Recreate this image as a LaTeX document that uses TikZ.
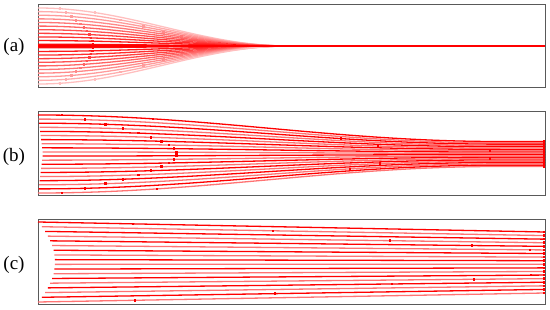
\documentclass[tikz,border=0pt]{standalone}
\usepackage{fontspec}
\setmainfont{Liberation Serif}
\usepackage{xcolor}
\usepackage{tikz}
\usetikzlibrary{calc}
\definecolor{slRed}{rgb}{1,0,0}
\definecolor{slPale}{rgb}{1,0.45,0.45}
\definecolor{slFrame}{rgb}{0.35,0.35,0.35}
\tikzset{
  sl-frame/.style={draw=slFrame, line width=1pt},
  sl-trace/.style={draw=slRed, line width=1.3pt},
  sl-dot/.style={fill=slRed},
  sl-tag/.style={font=\fontsize{19}{22}\selectfont, inner sep=0pt},
}
% helpers for the dots
\newcommand{\sldot}[2]{\fill[sl-dot] ({#1-1.3},{#2-1.3}) rectangle ({#1+1.3},{#2+1.3});}

\begin{document}
\begin{tikzpicture}[x=1pt, y=-1pt]
  \useasboundingbox (0,0) rectangle (550,310);

  % frames
  \draw[sl-frame] (38,5)   rectangle (545,88);
  \draw[sl-frame] (38,112) rectangle (545,196);
  \draw[sl-frame] (38,220) rectangle (545,305);

  % (a) fast focusing onto the axis
  \foreach \i in {0,...,21}{
    \pgfmathsetmacro{\dy}{-38+\i*76/21}
    \pgfmathsetmacro{\rr}{abs(\dy)/38}
    \pgfmathsetmacro{\gb}{0.75*\rr}
    \definecolor{slTint}{rgb}{1,\gb,\gb}
    \draw[sl-trace, draw=slTint] plot[domain=38:290, samples=50, smooth]
      (\x, {46+(\dy)*0.5*(1+cos((\x-38)/252*180))});
    \pgfmathsetmacro{\xa}{93-33*\rr*\rr}
    \pgfmathsetmacro{\ya}{46+(\dy)*0.5*(1+cos((\xa-38)/252*180))}
    \pgfmathsetmacro{\xb}{235-140*\rr*\rr}
    \pgfmathsetmacro{\yb}{46+(\dy)*0.5*(1+cos((\xb-38)/252*180))}
    \begin{scope}[sl-dot/.style={fill=slTint}]
      \sldot{\xa}{\ya}
      \sldot{\xb}{\yb}
    \end{scope}
  }
  \draw[sl-trace] (38,46) -- (545,46);
  \foreach \xx in {277,310,313,317,322,328,340,347,375,377,402,407,418,427,430,445,460,478,497,508,513,517,523,528,544}{
    \sldot{\xx}{46}
  }

  % (b) slow focusing into a band
  \foreach \i in {0,...,19}{
    \pgfmathsetmacro{\dy}{-39+\i*78/19}
    \pgfmathsetmacro{\rr}{abs(\dy)/39}
    \ifodd\i \def\tint{slPale}\else \def\tint{slRed}\fi
    \pgfmathsetmacro{\xs}{38+5*(1-\rr)}
    \draw[sl-trace, draw=\tint] plot[domain=\xs:545, samples=60, smooth]
      (\x, {154+(\dy)*(0.32+0.34*(1+cos(min(\x-38,462)/462*180)))});
    \pgfmathsetmacro{\xa}{177-115*\rr*\rr}
    \pgfmathsetmacro{\ya}{154+(\dy)*(0.32+0.34*(1+cos(min(\xa-38,462)/462*180)))}
    \pgfmathsetmacro{\ye}{154+(\dy)*0.32}
    \sldot{\xa}{\ya}
    \sldot{544}{\ye}
  }
  \foreach \xx/\i in {153/0, 341/2, 378/5, 490/7, 490/13, 380/15, 350/17, 157/19}{
    \pgfmathsetmacro{\dy}{-39+\i*78/19}
    \pgfmathsetmacro{\ya}{154+(\dy)*(0.32+0.34*(1+cos(min(\xx-38,462)/462*180)))}
    \sldot{\xx}{\ya}
  }

  % (c) nearly parallel lines
  \foreach \i in {0,...,17}{
    \pgfmathsetmacro{\yl}{222+\i*80/17}
    \pgfmathsetmacro{\yr}{232+\i*61/17}
    \pgfmathsetmacro{\rr}{abs(\i-8.5)/8.5}
    \pgfmathsetmacro{\xs}{55-17*\rr*\rr}
    \ifodd\i \def\tint{slPale}\else \def\tint{slRed}\fi
    \draw[sl-trace, draw=\tint] (\xs,\yl) -- (545,\yr);
    \sldot{544}{\yr}
  }
  \foreach \xx/\i in {133/0, 273/1, 390/3, 472/4, 530/5, 135/17, 275/16, 392/14, 474/13, 531/12}{
    \pgfmathsetmacro{\ya}{222+\i*80/17+(\xx-38)/507*(10-\i*19/17)}
    \sldot{\xx}{\ya}
  }

  % panel tags
  \node[sl-tag] (tagA) at (14,47)  {(a)};
  \node[sl-tag] (tagB) at (14,157) {(b)};
  \node[sl-tag] (tagC) at (14,265) {(c)};
\end{tikzpicture}
\end{document}
